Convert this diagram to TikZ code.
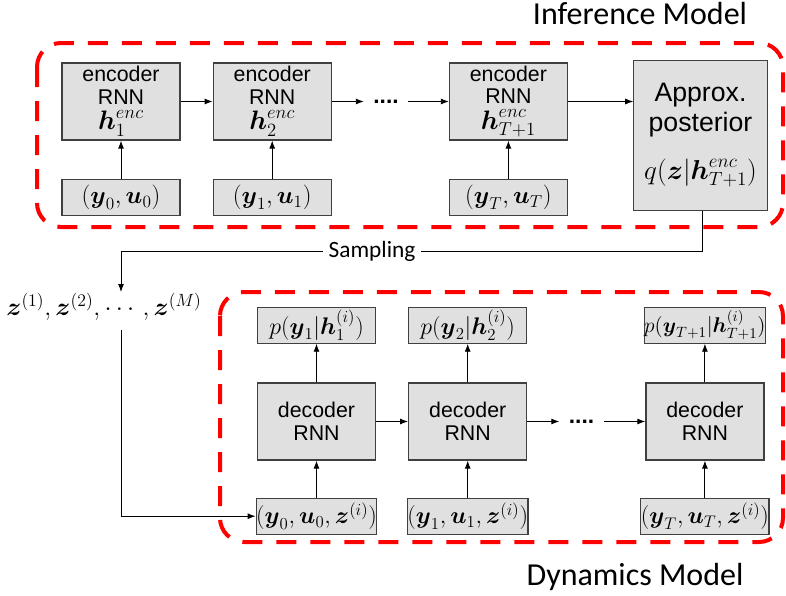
\documentclass[tikz,border=0pt]{standalone}
\usepackage{fix-cm}
\usepackage{amsmath,amssymb}
\usepackage{fontspec}
\setmainfont{Liberation Sans}
\newfontfamily\calib{Carlito}
\usetikzlibrary{positioning,arrows.meta}
\newcommand{\bs}[1]{\boldsymbol{#1}}
\newcommand{\hbig}[1]{{\fontsize{20}{17}\selectfont$#1$}}
\definecolor{boxgray}{RGB}{224,224,224}

\begin{document}
\begin{tikzpicture}[x=0.75pt,y=-0.75pt, node distance=24pt,
  blk/.style={draw=black!75, fill=boxgray, line width=0.9pt, minimum width=88.5pt, inner sep=0pt, align=center, font=\fontsize{16}{17}\selectfont},
  rnn/.style={blk, minimum height=57.75pt},
  io/.style={blk, minimum height=27pt, font=\fontsize{18.5}{20}\selectfont},
  dots/.style={inner xsep=7pt, inner ysep=1pt, font=\bfseries\fontsize{17}{20}\selectfont},
  arr/.style={-{Latex[length=6pt,width=4.5pt]}, line width=0.7pt},
  region/.style={red, line width=3pt, dash pattern=on 15pt off 10.5pt, rounded corners=18pt}]

 \useasboundingbox (0,0) rectangle (786,596);

 \draw[region] (37,43) rectangle (783,227);
 \draw[region] (220,292) rectangle (783,542);
 \node[font=\calib\fontsize{24}{26}\selectfont] (inf) at (640,13) {Inference Model};
 \node[font=\calib\fontsize{24}{26}\selectfont] (dyn) at (635,577) {Dynamics Model};

 \node[rnn] (E1) at (121,101.5) {encoder\\RNN\\[2pt]\hbig{\bs{h}^{enc}_1}};
 \node[rnn] (E2) [right=of E1] {encoder\\RNN\\[2pt]\hbig{\bs{h}^{enc}_2}};
 \node[dots] (ED) [right=of E2] {....};
 \node[rnn] (E3) [right=87.75pt of E2] {encoder\\RNN\\[2pt]\hbig{\bs{h}^{enc}_{T+1}}};
 \node[io] (X1) [below=28.5pt of E1] {$(\bs{y}_0,\bs{u}_0)$};
 \node[io] (X2) [below=28.5pt of E2] {$(\bs{y}_1,\bs{u}_1)$};
 \node[io] (X3) [below=28.5pt of E3] {$(\bs{y}_T,\bs{u}_T)$};
 \node[blk, minimum width=100pt, minimum height=112pt, font=\fontsize{20}{22}\selectfont] (Q) at (700.5,135.5)
   {Approx.\\posterior\\[14pt]{\fontsize{20.5}{22}\selectfont$q(\bs{z}|\bs{h}^{enc}_{T+1})$}};

 \draw[arr] (E1) -- (E2);
 \draw[arr] (E2) -- (ED);
 \draw[arr] (ED) -- (E3);
 \draw[arr] (E3) -- (E3 -| Q.west);
 \draw[arr] (X1) -- (E1);
 \draw[arr] (X2) -- (E2);
 \draw[arr] (X3) -- (E3);

 \node[fill=white, inner xsep=4pt, font=\calib\fontsize{17.5}{20}\selectfont] (samp) at (372,251) {Sampling};
 \node[font=\fontsize{19}{20}\selectfont] (Z) at (104,307) {$\bs{z}^{(1)},\bs{z}^{(2)},\cdots,\bs{z}^{(M)}$};
 \coordinate (zin) at (121,292);
 \coordinate (zout) at (121,330);
 \draw[arr] (Q.south -| 702,0) |- (samp) -| (zin);

 \node[rnn] (D1) at (316.5,421.5) {decoder\\RNN};
 \node[rnn] (D2) [right=of D1] {decoder\\RNN};
 \node[dots] (DD) [right=of D2] {....};
 \node[rnn] (D3) [right=88.5pt of D2] {decoder\\RNN};
 \node[io, font=\fontsize{18}{20}\selectfont] (P1) [above=29pt of D1] {$p(\bs{y}_1|\bs{h}^{(i)}_1)$};
 \node[io, font=\fontsize{18}{20}\selectfont] (P2) [above=29pt of D2] {$p(\bs{y}_2|\bs{h}^{(i)}_2)$};
 \node[io, font=\fontsize{16}{18}\selectfont] (P3) [above=29pt of D3] {$p(\bs{y}_{T+1}|\bs{h}^{(i)}_{T+1})$};
 \node[io, font=\fontsize{18}{20}\selectfont] (Y1) [below=27.75pt of D1] {$(\bs{y}_0,\bs{u}_0,\bs{z}^{(i)})$};
 \node[io, font=\fontsize{18}{20}\selectfont] (Y2) [below=27.75pt of D2] {$(\bs{y}_1,\bs{u}_1,\bs{z}^{(i)})$};
 \node[io, font=\fontsize{18}{20}\selectfont] (Y3) [below=27.75pt of D3] {$(\bs{y}_T,\bs{u}_T,\bs{z}^{(i)})$};

 \draw[arr] (D1) -- (D2);
 \draw[arr] (D2) -- (DD);
 \draw[arr] (DD) -- (D3);
 \draw[arr] (D1) -- (P1);
 \draw[arr] (D2) -- (P2);
 \draw[arr] (D3) -- (P3);
 \draw[arr] (Y1) -- (D1);
 \draw[arr] (Y2) -- (D2);
 \draw[arr] (Y3) -- (D3);
 \draw[arr] (zout) |- (Y1);
\end{tikzpicture}
\end{document}
